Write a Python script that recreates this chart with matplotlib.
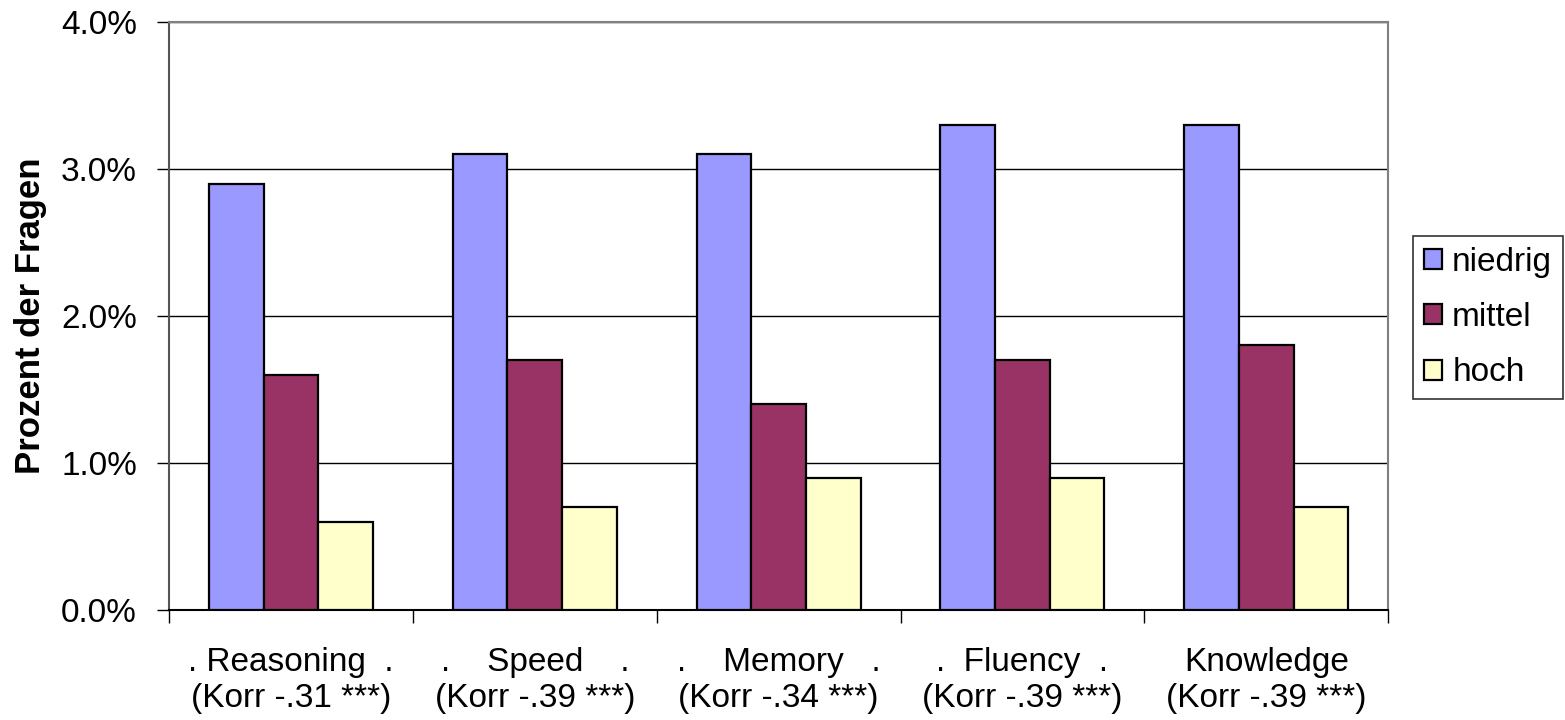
import numpy as np
import matplotlib.pyplot as plt
from matplotlib.ticker import FuncFormatter, FixedLocator

plt.rcParams['font.family'] = ['Liberation Sans', 'DejaVu Sans']

categories = [". Reasoning  .\n(Korr -.31 ***)",
              ".    Speed    .\n(Korr -.39 ***)",
              ".    Memory   .\n(Korr -.34 ***)",
              ".  Fluency  .\n(Korr -.39 ***)",
              "Knowledge\n(Korr -.39 ***)"]
series = ['niedrig', 'mittel', 'hoch']
niedrig = [2.9, 3.1, 3.1, 3.3, 3.3]
mittel = [1.6, 1.7, 1.4, 1.7, 1.8]
hoch = [0.6, 0.7, 0.9, 0.9, 0.7]
colors = ['#9999FF', '#993366', '#FFFFCC']

fig = plt.figure(figsize=(15.65, 7.2), dpi=100)
ax = fig.add_axes([0.108, 0.1528, 0.779, 0.8166])

x = np.arange(len(categories))
w = 0.224
for i, (vals, name) in enumerate(zip([niedrig, mittel, hoch], series)):
    ax.bar(x + (i - 1) * w, vals, width=w, color=colors[i], edgecolor='black',
           linewidth=1.6, label=name, zorder=3)

ax.set_xlim(-0.5, len(categories) - 0.5)
ax.set_ylim(0, 4.0)
ax.set_yticks([0, 1, 2, 3, 4])
ax.yaxis.set_major_formatter(FuncFormatter(lambda v, p: f'{v:.1f}%'))
ax.yaxis.grid(True, color='black', linewidth=1.0, zorder=0)
ax.set_axisbelow(True)

ax.set_xticks(x)
ax.set_xticklabels(categories, fontsize=24, linespacing=1.2)
ax.xaxis.set_minor_locator(FixedLocator(np.arange(-0.5, len(categories), 1.0)))
ax.tick_params(axis='x', which='major', length=0, pad=27)
ax.tick_params(axis='x', which='minor', length=9, width=1, direction='out')
ax.tick_params(axis='y', labelsize=24, length=9, width=1, pad=14)

ax.spines['top'].set_color('#808080')
ax.spines['right'].set_color('#808080')
ax.spines['left'].set_color('#555555')
ax.spines['bottom'].set_color('black')
for s in ax.spines.values():
    s.set_linewidth(1.5)

ax.set_ylabel('Prozent der Fragen', fontsize=25, fontweight='bold', labelpad=10)

leg = fig.legend(loc='upper left', bbox_to_anchor=(0.903, 0.672), fontsize=24,
                 frameon=True, fancybox=False, edgecolor='black', borderaxespad=0,
                 handlelength=0.55, handleheight=0.55, handletextpad=0.3,
                 labelspacing=0.73, borderpad=0.32)
leg.get_frame().set_linewidth(1.2)

fig.savefig('out.png', dpi=100)
